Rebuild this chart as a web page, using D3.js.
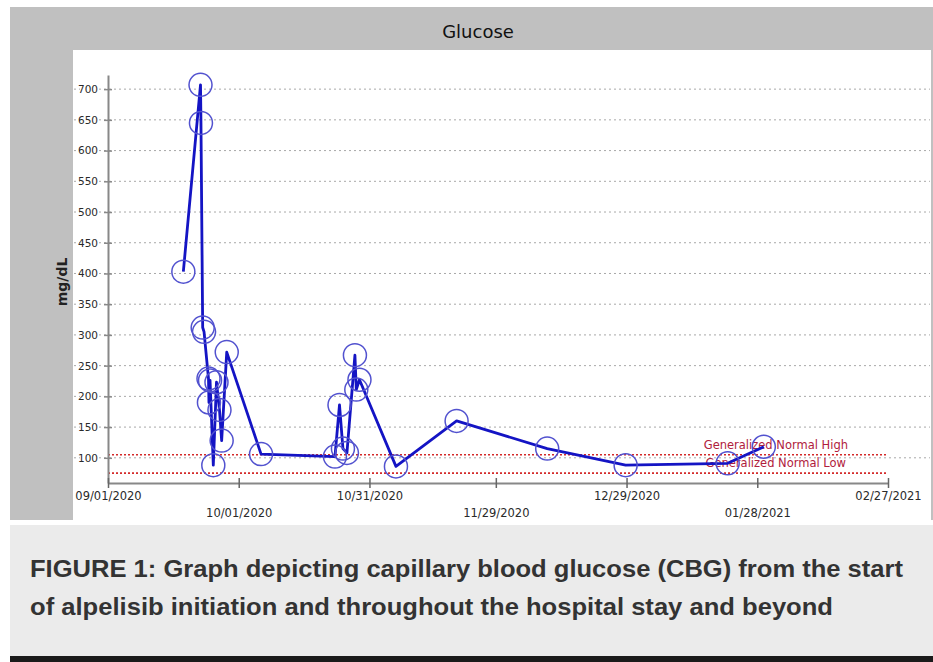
<!DOCTYPE html>
<html>
<head>
<meta charset="utf-8">
<script src="https://cdn.jsdelivr.net/npm/d3@7"></script>
<style>
  body { margin: 0; background: #fff; }
  svg { display: block; }
</style>
</head>
<body>
<div id="chart"></div>
<script>
// glucose readings
const readingTimes = [
  "2020-09-18T07:00", "2020-09-22T05:30", "2020-09-22T08:00", "2020-09-22T17:30",
  "2020-09-23T01:00", "2020-09-24T01:30", "2020-09-24T04:00", "2020-09-24T10:00",
  "2020-09-25T04:00", "2020-09-25T21:30", "2020-09-26T14:00", "2020-09-27T02:00",
  "2020-09-28T06:00", "2020-10-06T03:00", "2020-10-23T02:00", "2020-10-24T03:00",
  "2020-10-24T22:00", "2020-10-25T20:00", "2020-10-27T16:00", "2020-10-27T23:30",
  "2020-10-28T17:00", "2020-11-06T02:00", "2020-11-20T00:00", "2020-12-10T19:00",
  "2020-12-28T19:00", "2021-01-21T05:00", "2021-01-29T12:00"
];
const glucoseValues = [
  403, 707, 645, 312,
  305, 229, 190, 226,
  88, 223, 178, 128,
  272, 106, 102, 186,
  115, 108, 267, 211,
  227, 86, 160, 115,
  88, 91, 118
];

const xTickDates = ["2020-09-01", "2020-10-01", "2020-10-31", "2020-11-29", "2020-12-29", "2021-01-28", "2021-02-27"];
const xTickLabels = ["09/01/2020", "10/01/2020", "10/31/2020", "11/29/2020", "12/29/2020", "01/28/2021", "02/27/2021"];
const yTicks = [100, 150, 200, 250, 300, 350, 400, 450, 500, 550, 600, 650, 700];

const normalHigh = 105;
const normalLow = 75;

const captionLines = [
  "FIGURE 1: Graph depicting capillary blood glucose (CBG) from the start",
  "of alpelisib initiation and throughout the hospital stay and beyond"
];

var parse = d3.timeParse("%Y-%m-%dT%H:%M");
var parseDay = d3.timeParse("%Y-%m-%d");

var data = readingTimes.map(function (t, i) {
  return { date: parse(t), value: glucoseValues[i] };
});

var W = 933, H = 662;
var svg = d3.select("#chart").append("svg").attr("width", W).attr("height", H);

// frame pieces
svg.append("rect").attr("x", 10).attr("y", 7).attr("width", W - 10).attr("height", 513).style("fill", "#c0c0c0");
svg.append("rect").attr("x", 73).attr("y", 50).attr("width", 858).attr("height", 470).style("fill", "#fff");
svg.append("rect").attr("x", 10).attr("y", 525).attr("width", W - 10).attr("height", 131).style("fill", "#ebebeb");
svg.append("rect").attr("x", 10).attr("y", 656).attr("width", W - 10).attr("height", 6).style("fill", "#1a1a1a");

svg.append("text")
  .attr("x", 478).attr("y", 38)
  .attr("text-anchor", "middle")
  .style("font-family", "'DejaVu Sans', Verdana, sans-serif")
  .style("font-size", "18px")
  .style("fill", "#111")
  .text("Glucose");

// scales
var x = d3.scaleTime()
  .domain([parseDay(xTickDates[0]), parseDay(xTickDates[xTickDates.length - 1])])
  .range([108, 888]);
var y = d3.scaleLinear().domain([59, 723]).range([483, 75]);

// grid lines
svg.append("g").selectAll("line").data(yTicks).enter().append("line")
  .attr("x1", 74).attr("x2", 930)
  .attr("y1", function (d) { return y(d); })
  .attr("y2", function (d) { return y(d); })
  .style("stroke", "#a8a8a8")
  .style("stroke-width", 1)
  .style("stroke-dasharray", "2,3");

// normal range lines
[normalHigh, normalLow].forEach(function (v) {
  svg.append("line")
    .attr("x1", 108).attr("x2", 886)
    .attr("y1", y(v)).attr("y2", y(v))
    .style("stroke", "#d42a2a")
    .style("stroke-width", 1.6)
    .style("stroke-dasharray", "2,2");
});

// y axis
var yAxis = svg.append("g")
  .attr("transform", "translate(108,0)")
  .call(d3.axisLeft(y).tickValues(yTicks).tickSizeOuter(0));
yAxis.select(".domain").style("stroke", "#888").style("stroke-width", 2);
yAxis.selectAll(".tick line").attr("x1", 4).attr("x2", -4).style("stroke", "#888").style("stroke-width", 1.5);
yAxis.selectAll(".tick").insert("rect", "text")
  .attr("x", -28).attr("y", -5).attr("width", 19).attr("height", 10)
  .style("fill", "#fff");
yAxis.selectAll(".tick text")
  .attr("x", -10)
  .style("font-family", "'DejaVu Sans', Verdana, sans-serif")
  .style("font-size", "10.5px")
  .style("fill", "#2a2a2a");

svg.append("text")
  .attr("transform", "translate(67,282) rotate(-90)")
  .attr("text-anchor", "middle")
  .style("font-family", "'DejaVu Sans', Verdana, sans-serif")
  .style("font-size", "14px")
  .style("font-weight", "bold")
  .style("fill", "#222")
  .text("mg/dL");

// x axis
var xAxis = svg.append("g")
  .attr("transform", "translate(0,483)")
  .call(d3.axisBottom(x)
    .tickValues(xTickDates.map(parseDay))
    .tickFormat(function (d, i) { return xTickLabels[i]; })
    .tickSizeOuter(0));
xAxis.select(".domain").style("stroke", "#888").style("stroke-width", 2);
xAxis.selectAll(".tick line").attr("y1", -5).attr("y2", 5).style("stroke", "#666").style("stroke-width", 1.5);
xAxis.selectAll(".tick text")
  .attr("y", function (d, i) { return i % 2 === 0 ? 9 : 26; })
  .style("font-family", "'DejaVu Sans', Verdana, sans-serif")
  .style("font-size", "11.5px")
  .style("fill", "#2a2a2a");

// normal range labels
svg.append("text")
  .attr("x", 848).attr("y", y(normalHigh) - 6)
  .attr("text-anchor", "end")
  .style("font-family", "'DejaVu Sans', Verdana, sans-serif")
  .style("font-size", "11.5px")
  .style("fill", "#b0203c")
  .text("Generalized Normal High");
svg.append("text")
  .attr("x", 846).attr("y", y(normalLow) - 6)
  .attr("text-anchor", "end")
  .style("font-family", "'DejaVu Sans', Verdana, sans-serif")
  .style("font-size", "11.5px")
  .style("fill", "#b0203c")
  .text("Generalized Normal Low");

// series line
var line = d3.line()
  .x(function (d) { return x(d.date); })
  .y(function (d) { return y(d.value); });

svg.append("path")
  .datum(data)
  .attr("d", line)
  .style("fill", "none")
  .style("stroke", "#1414c4")
  .style("stroke-width", 2.8)
  .style("stroke-linejoin", "round");

// circle markers
svg.append("g").selectAll("circle").data(data).enter().append("circle")
  .attr("cx", function (d) { return x(d.date); })
  .attr("cy", function (d) { return y(d.value); })
  .attr("r", 11.5)
  .style("fill", "none")
  .style("stroke", "#5252cf")
  .style("stroke-width", 1.5);

// caption, stretched to the widths seen in the figure
var captionWidths = [873, 803];
svg.append("g").selectAll("text").data(captionLines).enter().append("text")
  .attr("x", 30)
  .attr("y", function (d, i) { return 577 + i * 38; })
  .attr("textLength", function (d, i) { return captionWidths[i]; })
  .attr("lengthAdjust", "spacingAndGlyphs")
  .style("font-family", "'Liberation Sans', Arial, sans-serif")
  .style("font-size", "24px")
  .style("font-weight", "bold")
  .style("fill", "#333")
  .text(function (d) { return d; });
</script>
</body>
</html>
